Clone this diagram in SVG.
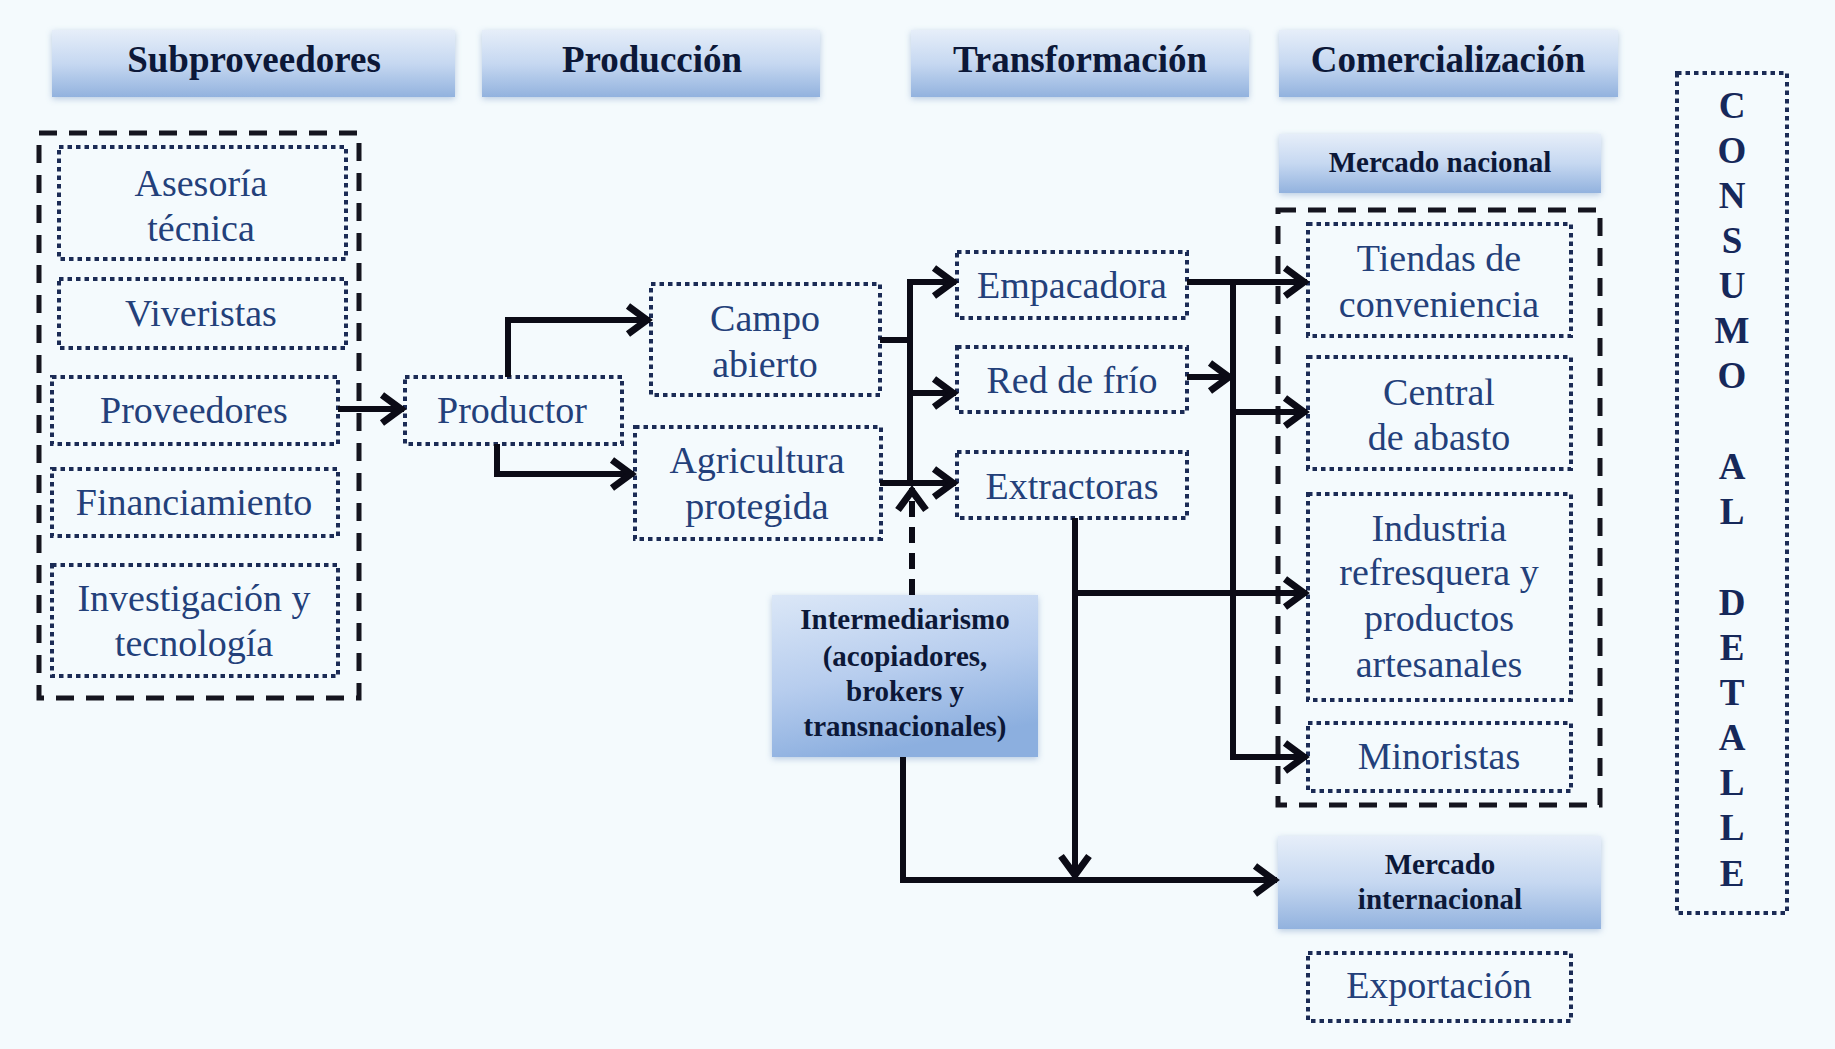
<svg xmlns="http://www.w3.org/2000/svg" width="1835" height="1049" viewBox="0 0 1835 1049">
<defs>
<linearGradient id="hg" x1="0" y1="0" x2="0" y2="1">
<stop offset="0" stop-color="#e6eef9"/>
<stop offset="0.5" stop-color="#c6d8f1"/>
<stop offset="1" stop-color="#92b2de"/>
</linearGradient>
<linearGradient id="ig" x1="0" y1="0" x2="0.3" y2="1">
<stop offset="0" stop-color="#dbe7f7"/>
<stop offset="0.55" stop-color="#b7cdee"/>
<stop offset="1" stop-color="#8cafdf"/>
</linearGradient>
<filter id="sh" x="-5%" y="-10%" width="110%" height="130%">
<feDropShadow dx="0" dy="2" stdDeviation="3" flood-color="#6f8fbf" flood-opacity="0.45"/>
</filter>
<marker id="ah" markerUnits="userSpaceOnUse" markerWidth="40" markerHeight="40" viewBox="-30 -20 40 40" refX="0" refY="0" orient="auto" overflow="visible">
<path d="M-22,-14 L-3,0 L-22,14" fill="none" stroke="#0b0b16" stroke-width="7" stroke-linecap="butt" stroke-linejoin="miter"/>
</marker>
<style>
.hdr{fill:url(#hg);filter:url(#sh);}
.ht{font-family:'Liberation Serif','DejaVu Serif',serif;font-weight:bold;fill:#0c1838;text-anchor:middle;}
.h1{font-size:37px;}
.h2{font-size:29px;}
.dot{fill:none;stroke:#1b2b55;stroke-width:4;stroke-dasharray:4.5 4;}
.grp{fill:none;stroke:#15151f;stroke-width:5;stroke-dasharray:18 12;}
.t{font-family:'Liberation Serif','DejaVu Serif',serif;font-size:38px;fill:#23407a;text-anchor:middle;}
.c{fill:none;stroke:#0b0b16;stroke-width:6;stroke-linejoin:miter;}
.ca{marker-end:url(#ah);}
.cd{stroke-dasharray:16 10;}
.lt{font-family:'Liberation Serif','DejaVu Serif',serif;font-weight:bold;font-size:37px;fill:#16285a;text-anchor:middle;}
</style>
</defs>
<rect x="0" y="0" width="1835" height="1049" fill="#f4fafd"/>

<g id="hdr-subproveedores"><rect class="hdr" x="52" y="30" width="403" height="67"/><text class="ht h1" x="254" y="72">Subproveedores</text></g>
<g id="hdr-produccion"><rect class="hdr" x="482" y="30" width="338" height="67"/><text class="ht h1" x="652" y="72">Producción</text></g>
<g id="hdr-transformacion"><rect class="hdr" x="911" y="30" width="338" height="67"/><text class="ht h1" x="1080" y="72">Transformación</text></g>
<g id="hdr-comercializacion"><rect class="hdr" x="1279" y="30" width="339" height="67"/><text class="ht h1" x="1448" y="72">Comercialización</text></g>
<g id="hdr-mercado-nacional"><rect class="hdr" x="1279" y="134" width="322" height="59"/><text class="ht h2" x="1440" y="172">Mercado nacional</text></g>

<g id="grp-subproveedores"><rect class="grp" x="39" y="133" width="320" height="565"/></g>
<g id="n-asesoria"><rect class="dot" x="59" y="147" width="287" height="112"/><text class="t" x="201" y="196">Asesoría</text><text class="t" x="201" y="241">técnica</text></g>
<g id="n-viveristas"><rect class="dot" x="59" y="279" width="287" height="69"/><text class="t" x="201" y="326">Viveristas</text></g>
<g id="n-proveedores"><rect class="dot" x="52" y="377" width="286" height="67"/><text class="t" x="194" y="423">Proveedores</text></g>
<g id="n-financiamiento"><rect class="dot" x="52" y="469" width="286" height="67"/><text class="t" x="194" y="515">Financiamiento</text></g>
<g id="n-investigacion"><rect class="dot" x="52" y="565" width="286" height="111"/><text class="t" x="194" y="611">Investigación y</text><text class="t" x="194" y="656">tecnología</text></g>

<g id="n-productor"><rect class="dot" x="405" y="377" width="217" height="67"/><text class="t" x="512" y="423">Productor</text></g>
<g id="n-campo"><rect class="dot" x="651" y="284" width="229" height="111"/><text class="t" x="765" y="331">Campo</text><text class="t" x="765" y="377">abierto</text></g>
<g id="n-agricultura"><rect class="dot" x="635" y="427" width="246" height="112"/><text class="t" x="757" y="473">Agricultura</text><text class="t" x="757" y="519">protegida</text></g>

<g id="n-empacadora"><rect class="dot" x="957" y="252" width="230" height="66"/><text class="t" x="1072" y="298">Empacadora</text></g>
<g id="n-redfrio"><rect class="dot" x="957" y="347" width="230" height="65"/><text class="t" x="1072" y="393">Red de frío</text></g>
<g id="n-extractoras"><rect class="dot" x="957" y="452" width="230" height="66"/><text class="t" x="1072" y="499">Extractoras</text></g>

<g id="n-intermediarismo"><rect x="772" y="595" width="266" height="162" fill="url(#ig)" filter="url(#sh)"/>
<text class="ht h2" x="905" y="629">Intermediarismo</text>
<text class="ht h2" x="905" y="666">(acopiadores,</text>
<text class="ht h2" x="905" y="701">brokers y</text>
<text class="ht h2" x="905" y="736">transnacionales)</text></g>

<g id="grp-mercado-nacional"><rect class="grp" x="1278" y="210" width="322" height="595"/></g>
<g id="n-tiendas"><rect class="dot" x="1308" y="224" width="263" height="112"/><text class="t" x="1439" y="271">Tiendas de</text><text class="t" x="1439" y="317">conveniencia</text></g>
<g id="n-central"><rect class="dot" x="1308" y="357" width="263" height="112"/><text class="t" x="1439" y="405">Central</text><text class="t" x="1439" y="450">de abasto</text></g>
<g id="n-industria"><rect class="dot" x="1308" y="494" width="263" height="206"/><text class="t" x="1439" y="541">Industria</text><text class="t" x="1439" y="585">refresquera y</text><text class="t" x="1439" y="631">productos</text><text class="t" x="1439" y="677">artesanales</text></g>
<g id="n-minoristas"><rect class="dot" x="1308" y="723" width="263" height="68"/><text class="t" x="1439" y="769">Minoristas</text></g>

<g id="n-mercado-internacional"><rect class="hdr" x="1278" y="836" width="323" height="93"/><text class="ht h2" x="1440" y="874">Mercado</text><text class="ht h2" x="1440" y="909">internacional</text></g>
<g id="n-exportacion"><rect class="dot" x="1308" y="953" width="263" height="68"/><text class="t" x="1439" y="998">Exportación</text></g>

<g id="n-consumo"><rect class="dot" x="1677" y="73" width="110" height="840"/>
<text class="lt" x="1732" y="118">C</text>
<text class="lt" x="1732" y="163">O</text>
<text class="lt" x="1732" y="208">N</text>
<text class="lt" x="1732" y="253">S</text>
<text class="lt" x="1732" y="298">U</text>
<text class="lt" x="1732" y="343">M</text>
<text class="lt" x="1732" y="388">O</text>
<text class="lt" x="1732" y="479">A</text>
<text class="lt" x="1732" y="524">L</text>
<text class="lt" x="1732" y="615">D</text>
<text class="lt" x="1732" y="660">E</text>
<text class="lt" x="1732" y="705">T</text>
<text class="lt" x="1732" y="750">A</text>
<text class="lt" x="1732" y="795">L</text>
<text class="lt" x="1732" y="840">L</text>
<text class="lt" x="1732" y="886">E</text>
</g>

<g id="connectors">
<path class="c ca" d="M338,409 H404"/>
<path class="c ca" d="M508,377 V320 H650"/>
<path class="c ca" d="M497,444 V474 H634"/>
<path class="c" d="M880,340 H910"/>
<path class="c" d="M880,483 H910"/>
<path class="c" d="M910,279 V486"/>
<path class="c ca" d="M907,282 H956"/>
<path class="c ca" d="M910,393 H956"/>
<path class="c ca" d="M910,483 H956"/>
<path class="c ca cd" d="M912,595 V488"/>
<path class="c ca" d="M1187,282 H1307"/>
<path class="c ca" d="M1187,377 H1232"/>
<path class="c" d="M1233,279 V760"/>
<path class="c ca" d="M1233,412 H1307"/>
<path class="c ca" d="M1230,757 H1307"/>
<path class="c ca" d="M1075,518 V878"/>
<path class="c ca" d="M1072,593 H1307"/>
<path class="c ca" d="M903,757 V880 H1277"/>
</g>
</svg>
